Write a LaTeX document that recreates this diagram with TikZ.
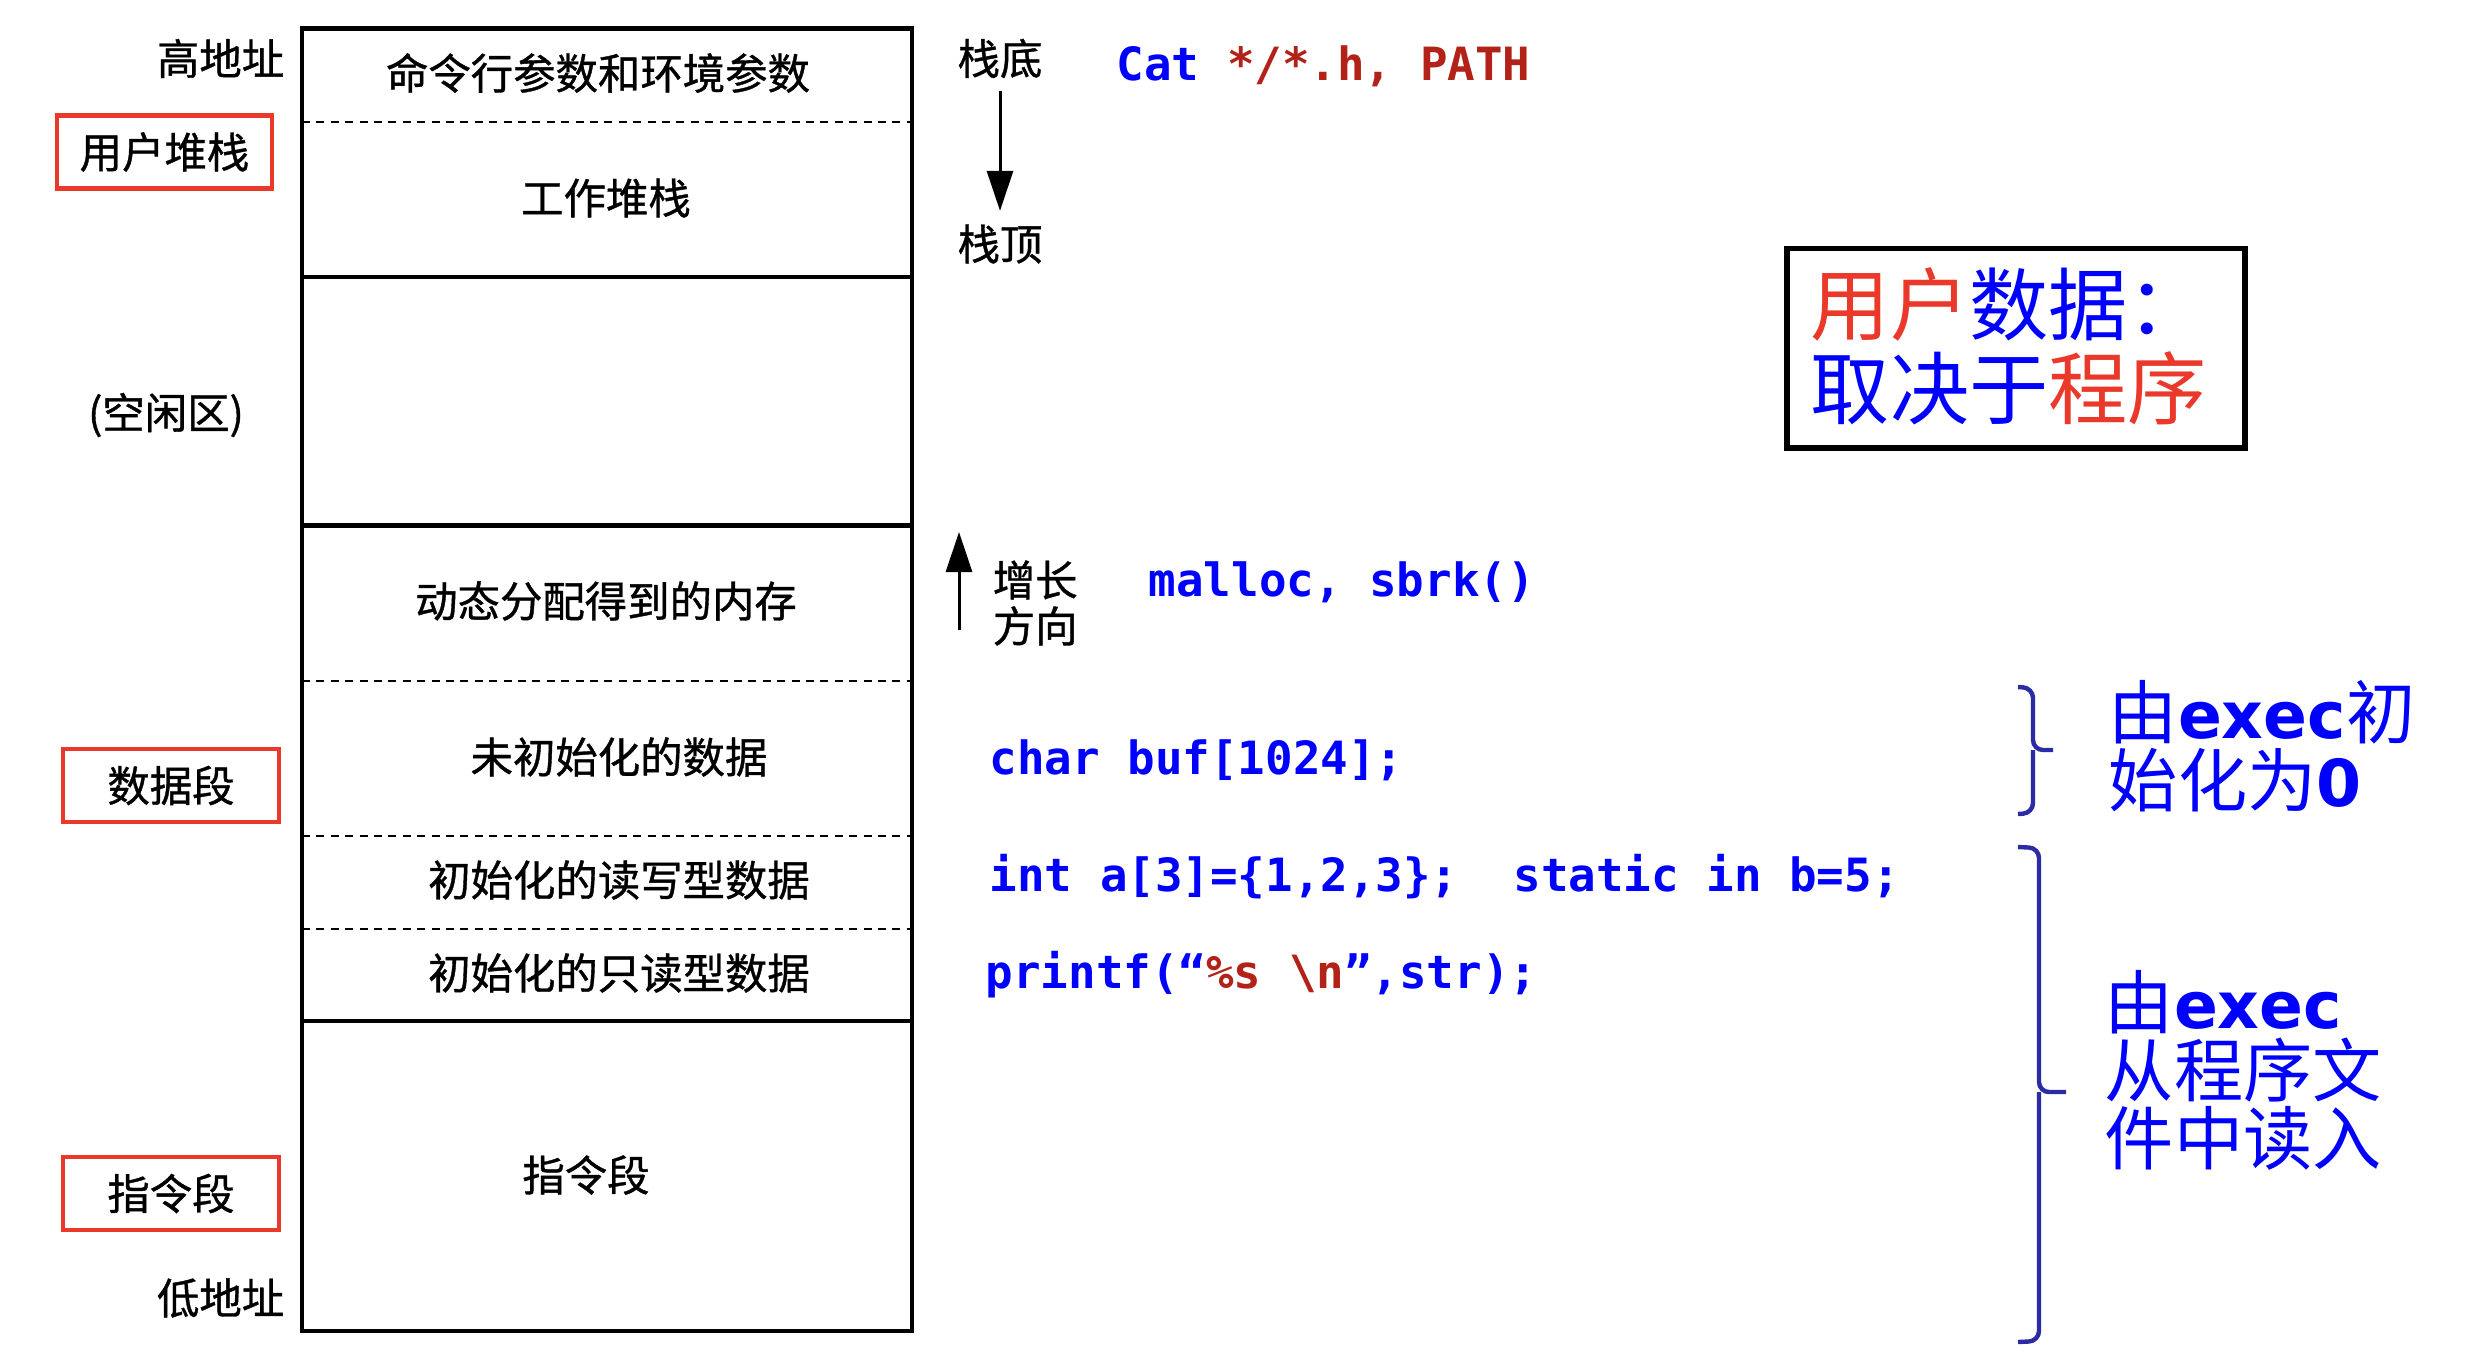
\documentclass[tikz,border=0pt]{standalone}
\usepackage{fontspec}
\setmainfont{Noto Sans CJK SC}
\newfontfamily\cjk{Noto Sans CJK SC}
\newfontfamily\cjklbl[FakeBold=0.9]{Noto Sans CJK SC}
\newfontfamily\mono{DejaVu Sans Mono}
\newfontfamily\dvsans{DejaVu Sans}
\usetikzlibrary{arrows.meta}
\definecolor{codeblue}{RGB}{0,0,255}
\definecolor{codered}{RGB}{178,34,24}
\definecolor{boxred}{RGB}{234,57,42}
\definecolor{bracecol}{RGB}{43,43,166}
\newcommand{\ex}[1]{{\dvsans\bfseries\fontsize{16.2}{17}\selectfont #1}}
\begin{document}
\begin{tikzpicture}[x=0.25pt,y=-0.25pt,
  lbl/.style={font=\cjklbl\fontsize{10.6}{12}\selectfont, inner sep=0pt},
  code/.style={font=\mono\bfseries\fontsize{11.45}{13}\selectfont, text=codeblue, anchor=west, inner sep=0pt},
  mainline/.style={line width=1.15pt},
  dotline/.style={line width=0.6pt, dash pattern=on 2pt off 1.6pt},
  redbox/.style={draw=boxred, line width=1.2pt, inner sep=0pt, font=\cjklbl\fontsize{10.6}{12}\selectfont},
  bigtext/.style={font=\cjk\fontsize{17.3}{17}\selectfont, text=codeblue, anchor=west, align=left, inner sep=0pt},
  brace/.style={draw=bracecol, line width=1.1pt, rounded corners=2.5pt},
  arr/.style={line width=0.75pt, -{Triangle[length=10pt,width=6.5pt]}}
]
\useasboundingbox[fill=white] (0,0) rectangle (2482,1350);

% main memory column
\draw[mainline] (302,28.5) rectangle (912,1331);
\draw[mainline] (302,277) -- (912,277);
\draw[mainline] (302,525.5) -- (912,525.5);
\draw[mainline] (302,1021) -- (912,1021);
\draw[dotline] (302,122) -- (912,122);
\draw[dotline] (302,681) -- (912,681);
\draw[dotline] (302,836) -- (912,836);
\draw[dotline] (302,929) -- (912,929);

\node[lbl] (args) at (598,73) {命令行参数和环境参数};
\node[lbl] (work) at (606,198) {工作堆栈};
\node[lbl] (heap) at (606,601) {动态分配得到的内存};
\node[lbl] (bss) at (619,757) {未初始化的数据};
\node[lbl] (rw) at (619,880) {初始化的读写型数据};
\node[lbl] (ro) at (619,973) {初始化的只读型数据};
\node[lbl] (text) at (586,1175) {指令段};

% left labels
\node[lbl, anchor=east] (high) at (285,58.5) {高地址};
\node[redbox, minimum width=53.75pt, minimum height=18.1pt] (ustack) at (164.5,152) {用户堆栈};
\node[lbl] (free) at (166,415) {(空闲区)};
\node[redbox, minimum width=54pt, minimum height=18.25pt] (dseg) at (171,785.5) {数据段};
\node[redbox, minimum width=54pt, minimum height=18.25pt] (iseg) at (171,1193.5) {指令段};
\node[lbl, anchor=east] (low) at (285,1298) {低地址};

% stack direction
\node[lbl] (sbottom) at (1000,58.5) {栈底};
\node[lbl] (stop) at (1000,244) {栈顶};
\draw[arr, shorten <=3pt, shorten >=3.2pt] (sbottom.south) -- (stop.north);

% growth direction
\coordinate (g1) at (959,630);
\coordinate (g2) at (959,532);
\draw[arr] (g1) -- (g2);
\node[lbl, align=left, anchor=west] (grow) at (992,603) {增长\\[-0.5pt]方向};

% code
\node[code] (cat) at (1116,66.5) {Cat {\color{codered}*/*.h, PATH}};
\node[code] (malloc) at (1148,582) {malloc, sbrk()};
\node[code] (charbuf) at (989,760) {char buf[1024];};
\node[code] (inta) at (989,877) {int a[3]=\{1,2,3\};\ \ static in b=5;};
\node[code] (printf) at (985,975) {printf(“{\color{codered}\%s \textbackslash n}”,str);};

% user data box
\node[draw, line width=1.3pt, minimum width=114.5pt, minimum height=49.9pt, inner sep=0pt] (ubox) at (2016,348.25) {};
\node[font=\cjk\fontsize{19.8}{21}\selectfont, anchor=west, align=left, inner sep=0pt] (utext) at (1810,346)
  {{\color{boxred}用户}{\color{codeblue}数据：}\\{\color{codeblue}取决于}{\color{boxred}程序}};

% braces
\draw[brace] (2018,687) -- (2033,688) -- (2033,750) -- (2053,750) (2033,750) -- (2033,813) -- (2018,814);
\draw[brace] (2018,847) -- (2039,848) -- (2039,1092) -- (2066,1092) (2039,1092) -- (2039,1341) -- (2018,1342);

\node[bigtext] (exec1) at (2108,746) {由\ex{exec}初\\始化为\ex{0}};
\node[bigtext] (exec2) at (2104,1070) {由\ex{exec}\\从程序文\\件中读入};
\end{tikzpicture}
\end{document}
